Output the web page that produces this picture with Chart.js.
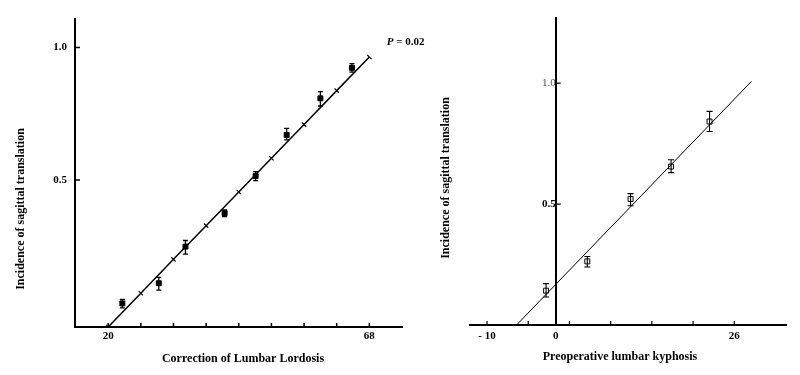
<!DOCTYPE html>
<html>
<head>
<meta charset="utf-8">
<title>Sagittal translation</title>
<script src="https://cdn.jsdelivr.net/npm/chart.js@4.4.0/dist/chart.umd.min.js"></script>
<style>
  html, body { margin: 0; padding: 0; background: #fff; }
  #wrap      { position: relative; width: 800px; height: 375px; overflow: hidden; }
  #lordosis  { position: absolute; left: 0;     top: 0; }
  #kyphosis  { position: absolute; left: 430px; top: 0; }
</style>
</head>
<body>
<div id="wrap">
  <canvas id="lordosis" width="430" height="375"></canvas>
  <canvas id="kyphosis" width="370" height="375"></canvas>
</div>
<script>
/* ── Sagittal translation vs lordosis / kyphosis ──────────────────────────── */

// ── Left panel: correction of lumbar lordosis ────────────────────────────────
const LL_X      = [22.6, 29.3, 34.2, 41.4, 47.1, 52.8, 59.0, 64.8];
const LL_Y      = [0.035, 0.111, 0.249, 0.375, 0.515, 0.670, 0.808, 0.923];
const LL_LO     = [0.018, 0.085, 0.221, 0.362, 0.498, 0.651, 0.779, 0.907];
const LL_HI     = [0.050, 0.133, 0.272, 0.387, 0.532, 0.695, 0.833, 0.939];
const LL_FIT_X  = [20, 26, 32, 38, 44, 50, 56, 62, 68];
const LL_FIT_Y  = [-0.054, 0.073, 0.201, 0.328, 0.455, 0.582, 0.709, 0.837, 0.964];
const LL_XTICKS = [20, 26, 32, 38, 44, 50, 56, 62, 68];
const LL_XLABEL = ['20', '', '', '', '', '', '', '', '68'];
const LL_YTICKS = [0.5, 1.0];

// ── Right panel: preoperative lumbar kyphosis ────────────────────────────────
const LK_X      = [-1.4, 4.6, 10.9, 16.8, 22.4];
const LK_Y      = [0.142, 0.263, 0.521, 0.655, 0.841];
const LK_LO     = [0.116, 0.240, 0.493, 0.630, 0.800];
const LK_HI     = [0.171, 0.283, 0.543, 0.683, 0.883];
const LK_FIT_X  = [-5.7, 28.5];
const LK_FIT_Y  = [0, 1.007];
const LK_XTICKS = [-10, -4, 0, 2, 8, 14, 20, 26];
const LK_XLABEL = ['- 10', '', '0', '', '', '', '', '26'];
const LK_YTICKS = [0.5, 1.0];

// ── Defaults ─────────────────────────────────────────────────────────────────
const SERIF = "'Liberation Serif', 'Times New Roman', serif";
Chart.defaults.font.family = SERIF;
Chart.defaults.font.size   = 11;
Chart.defaults.font.weight = 'bold';
Chart.defaults.color       = '#000';

const pairs = (xs, ys) => xs.map((x, i) => ({ x, y: ys[i] }));

// ── Plugins ──────────────────────────────────────────────────────────────────
// tick marks drawn inside the plot, from the axis line inwards
const insideTicks = {
  id: 'insideTicks',
  afterDraw(chart, args, opts) {
    const { ctx, chartArea, scales: { x, y } } = chart;
    const axisY = chartArea.bottom;
    const axisX = opts.yAt == null ? chartArea.left : x.getPixelForValue(opts.yAt);
    ctx.save();
    ctx.strokeStyle = '#000';
    ctx.lineWidth   = opts.width;
    ctx.beginPath();
    opts.xTicks.forEach(v => {
      const px = x.getPixelForValue(v);
      ctx.moveTo(px, axisY);
      ctx.lineTo(px, axisY - opts.len);
    });
    opts.yTicks.forEach(v => {
      const py = y.getPixelForValue(v);
      ctx.moveTo(axisX, py);
      ctx.lineTo(axisX + opts.len + 1, py);
    });
    ctx.stroke();
    ctx.restore();
  },
};

// vertical error bars with caps, from dataset.errLo / dataset.errHi
const errorBars = {
  id: 'errorBars',
  afterDatasetsDraw(chart, args, opts) {
    const { ctx, scales: { y } } = chart;
    ctx.save();
    ctx.strokeStyle = '#000';
    ctx.lineWidth   = opts.width;
    chart.data.datasets.forEach((ds, i) => {
      if (!ds.errLo) return;
      chart.getDatasetMeta(i).data.forEach((pt, j) => {
        const top = y.getPixelForValue(ds.errHi[j]);
        const bot = y.getPixelForValue(ds.errLo[j]);
        ctx.beginPath();
        ctx.moveTo(pt.x, top);             ctx.lineTo(pt.x, bot);
        ctx.moveTo(pt.x - opts.cap, top);  ctx.lineTo(pt.x + opts.cap, top);
        ctx.moveTo(pt.x - opts.cap, bot);  ctx.lineTo(pt.x + opts.cap, bot);
        ctx.stroke();
      });
    });
    ctx.restore();
  },
};

// axis titles placed where the original figure has them
const axisTitles = {
  id: 'axisTitles',
  afterDraw(chart, args, opts) {
    const { ctx } = chart;
    ctx.save();
    ctx.fillStyle    = '#000';
    ctx.font         = `bold 12px ${SERIF}`;
    ctx.textAlign    = 'center';
    ctx.textBaseline = 'middle';
    ctx.fillText(opts.x.text, opts.x.cx, opts.x.cy);
    ctx.translate(opts.y.cx, opts.y.cy);
    ctx.rotate(-Math.PI / 2);
    ctx.fillText(opts.y.text, 0, 0);
    ctx.restore();
  },
};

// "P = 0.02" note next to the regression line
const pNote = {
  id: 'pNote',
  afterDraw(chart, args, opts) {
    if (!opts.text) return;
    const { ctx, scales: { x, y } } = chart;
    const px = x.getPixelForValue(opts.x);
    const py = y.getPixelForValue(opts.y);
    ctx.save();
    ctx.fillStyle    = '#000';
    ctx.textBaseline = 'middle';
    ctx.textAlign    = 'left';
    ctx.font = `italic bold 11px ${SERIF}`;
    ctx.fillText('P', px, py);
    const w = ctx.measureText('P').width;
    ctx.font = `bold 11px ${SERIF}`;
    ctx.fillText(opts.text, px + w, py);
    ctx.restore();
  },
};

// ── Shared axis builders ─────────────────────────────────────────────────────
function xAxis(min, max, ticks, labels, height, pad) {
  return {
    type: 'linear', min, max,
    afterBuildTicks: s => { s.ticks = ticks.map(v => ({ value: v })); },
    afterFit:        s => { s.height = height; },
    grid:   { display: false, drawTicks: false },
    border: { color: '#000', width: 2 },
    ticks:  { autoSkip: false, maxRotation: 0, padding: pad,
              callback: (v, i) => labels[i] },
  };
}

function yAxis(min, max, ticks, extra) {
  return Object.assign({
    type: 'linear', min, max,
    afterBuildTicks: s => { s.ticks = ticks.map(v => ({ value: v })); },
    grid:   { display: false, drawTicks: false },
    border: { color: '#000', width: 2 },
    ticks:  { padding: 8, callback: v => v.toFixed(1) },
  }, extra);
}

// ── Left chart ───────────────────────────────────────────────────────────────
new Chart(document.getElementById('lordosis'), {
  type: 'scatter',
  data: { datasets: [
    { label: 'Regression', data: pairs(LL_FIT_X, LL_FIT_Y), showLine: true,
      borderColor: '#000', borderWidth: 1.5,
      pointStyle: 'line', rotation: 45, pointRadius: 3,
      pointBorderColor: '#000', pointBorderWidth: 1.2 },
    { label: 'Observed', data: pairs(LL_X, LL_Y), errLo: LL_LO, errHi: LL_HI,
      pointStyle: 'rect', pointRadius: 3.5,
      backgroundColor: '#000', borderColor: '#000', borderWidth: 1 },
  ]},
  options: {
    responsive: false,
    animation:  false,
    layout: { padding: { top: 19, right: 28, bottom: 0, left: 0 } },
    plugins: {
      legend:  { display: false },
      tooltip: { enabled: false },
      insideTicks: { xTicks: LL_XTICKS, yTicks: LL_YTICKS, len: 4, width: 1.5 },
      errorBars:   { cap: 2.5, width: 1.3 },
      axisTitles:  { x: { text: 'Correction of Lumbar Lordosis', cx: 243, cy: 359 },
                     y: { text: 'Incidence of sagittal translation', cx: 21, cy: 209 } },
      pNote:       { text: ' = 0.02', x: 71.2, y: 1.02 },
    },
    scales: {
      x: xAxis(13.9, 74, LL_XTICKS, LL_XLABEL, 48, 3),
      y: yAxis(-0.054, 1.107, LL_YTICKS, { afterFit: s => { s.width = 75; } }),
    },
  },
  plugins: [insideTicks, errorBars, axisTitles, pNote],
});

// ── Right chart ──────────────────────────────────────────────────────────────
new Chart(document.getElementById('kyphosis'), {
  type: 'scatter',
  data: { datasets: [
    { label: 'Regression', data: pairs(LK_FIT_X, LK_FIT_Y), showLine: true,
      borderColor: '#000', borderWidth: 1, pointRadius: 0 },
    { label: 'Observed', data: pairs(LK_X, LK_Y), errLo: LK_LO, errHi: LK_HI,
      pointStyle: 'rect', pointRadius: 3.5,
      backgroundColor: '#fff', borderColor: '#000', borderWidth: 1 },
  ]},
  options: {
    responsive: false,
    animation:  false,
    layout: { padding: { top: 18, right: 14, bottom: 0, left: 40 } },
    plugins: {
      legend:  { display: false },
      tooltip: { enabled: false },
      insideTicks: { xTicks: LK_XTICKS, yTicks: LK_YTICKS, yAt: 0, len: 4, width: 1.2 },
      errorBars:   { cap: 3, width: 1.1 },
      axisTitles:  { x: { text: 'Preoperative lumbar kyphosis', cx: 190, cy: 357 },
                     y: { text: 'Incidence of sagittal translation', cx: 16, cy: 178 } },
      pNote:       { text: '' },
    },
    scales: {
      x: xAxis(-12.48, 33.53, LK_XTICKS, LK_XLABEL, 50, 5),
      y: yAxis(0, 1.269, LK_YTICKS, {
        position: { x: 0 },
        ticks: { padding: 4, callback: v => v.toFixed(1),
                 color: c => c.tick && c.tick.value === 1 ? '#555' : '#000',
                 font:  c => ({ weight: c.tick && c.tick.value === 1 ? 'normal' : 'bold' }) },
      }),
    },
  },
  plugins: [insideTicks, errorBars, axisTitles, pNote],
});
</script>
</body>
</html>
